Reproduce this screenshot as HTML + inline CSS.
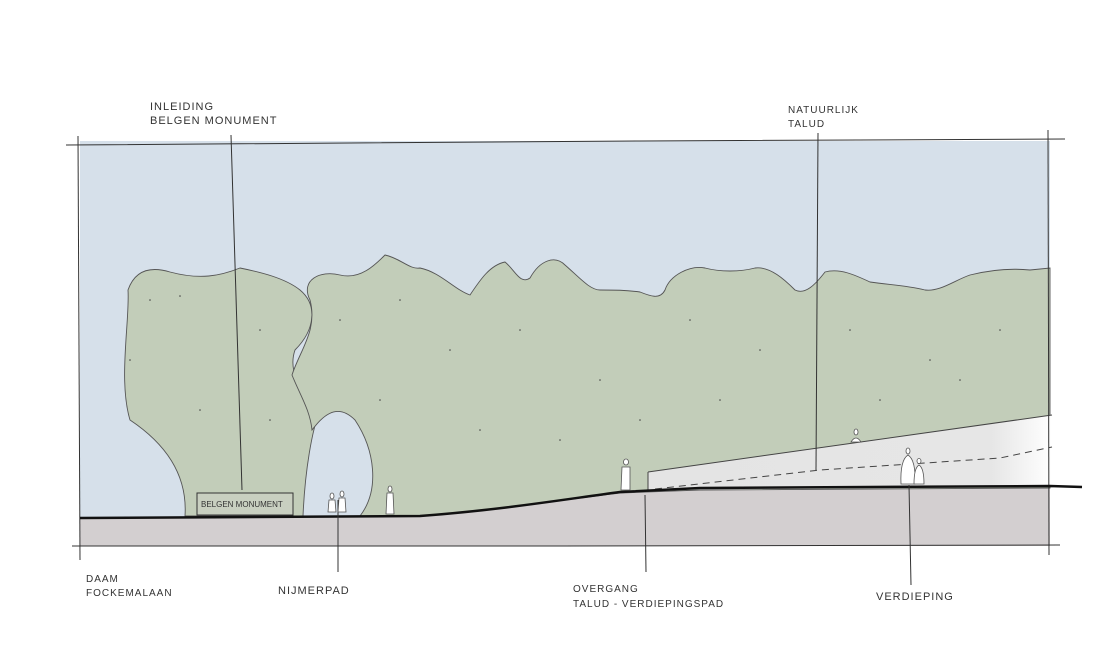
<!DOCTYPE html>
<html><head><meta charset="utf-8"><style>
html,body{margin:0;padding:0;background:#fff;}
svg{display:block}
text{font-family:"Liberation Sans",sans-serif;font-size:11px;fill:#333;letter-spacing:1px}
</style></head><body>
<svg width="1116" height="664" viewBox="0 0 1116 664" xmlns="http://www.w3.org/2000/svg">
<defs>
<linearGradient id="fade" x1="0" x2="1" y1="0" y2="0">
<stop offset="0" stop-color="#e4e4e4"/><stop offset="0.85" stop-color="#e6e6e6"/><stop offset="1" stop-color="#ffffff"/>
</linearGradient>
</defs>
<rect x="80" y="141" width="970" height="380" fill="#d6e0ea"/>
<path d="M80,518 L420,516 C500,510 560,500 620,492 L700,488 L1050,486 L1050,546 L80,546 Z" fill="#d3cfd0"/>
<g fill="#c2cdb9" stroke="#555" stroke-width="0.9">
<path d="M185,516 C188,470 160,440 130,420 C118,380 130,320 128,290 C135,270 150,266 170,272 C200,280 220,276 240,268 C260,272 285,278 300,290 C318,305 315,330 295,350 C288,370 300,390 312,400 L320,410 C312,430 305,470 303,516 Z"/>
<path d="M360,516 C380,490 375,450 355,420 C335,400 320,420 312,430 C310,410 300,395 292,375 C300,350 318,330 310,300 C300,280 320,270 340,275 C360,280 375,265 385,255 C400,258 410,270 420,268 C440,272 455,290 470,295 C480,280 490,265 505,262 C515,270 520,285 530,278 C540,260 555,255 565,265 C580,278 590,290 600,290 C615,290 625,290 640,292 C650,296 660,300 665,290 C670,275 690,265 705,268 C720,272 740,272 755,268 C770,266 785,280 795,290 C805,295 815,285 825,272 C840,268 855,275 870,282 C890,285 905,285 925,290 C940,292 955,280 970,275 C990,270 1010,268 1030,270 L1050,268 L1050,488 L700,490 L620,493 C560,500 500,510 420,516 Z"/>
</g>
<g fill="#444">
<circle cx="150" cy="300" r="0.8"/><circle cx="180" cy="296" r="0.8"/><circle cx="260" cy="330" r="0.8"/><circle cx="130" cy="360" r="0.8"/><circle cx="200" cy="410" r="0.8"/><circle cx="270" cy="420" r="0.8"/>
<circle cx="340" cy="320" r="0.8"/><circle cx="400" cy="300" r="0.8"/><circle cx="450" cy="350" r="0.8"/><circle cx="520" cy="330" r="0.8"/><circle cx="600" cy="380" r="0.8"/><circle cx="690" cy="320" r="0.8"/><circle cx="760" cy="350" r="0.8"/><circle cx="850" cy="330" r="0.8"/><circle cx="930" cy="360" r="0.8"/><circle cx="1000" cy="330" r="0.8"/><circle cx="380" cy="400" r="0.8"/><circle cx="480" cy="430" r="0.8"/><circle cx="560" cy="440" r="0.8"/><circle cx="640" cy="420" r="0.8"/><circle cx="720" cy="400" r="0.8"/><circle cx="880" cy="400" r="0.8"/><circle cx="960" cy="380" r="0.8"/>
</g>
<path d="M648,472 L1052,415 L1052,487 L648,490 Z" fill="url(#fade)"/>
<path d="M648,472 L1052,415" stroke="#444" stroke-width="1" fill="none"/>
<path d="M648,472 L648,492" stroke="#444" stroke-width="1"/>
<path d="M655,489 L820,470 L1000,458 L1052,447" stroke="#444" stroke-width="1" stroke-dasharray="7,5" fill="none"/>
<path d="M66,145 L640,141 L1065,139" stroke="#333" stroke-width="1" fill="none"/>
<path d="M78,136 L80,560" stroke="#333" stroke-width="1"/>
<path d="M1048,130 L1049,555" stroke="#333" stroke-width="1"/>
<path d="M72,546 L560,546 L1060,545" stroke="#333" stroke-width="1" fill="none"/>
<path d="M80,518 L420,516 C500,510 560,500 620,492 L700,488 L1050,486 L1082,487" stroke="#111" stroke-width="2.5" fill="none"/>
<rect x="197" y="493" width="96" height="22" fill="#c8cfc0" stroke="#333" stroke-width="1"/>
<text x="201" y="507" style="font-size:8px;letter-spacing:0">BELGEN MONUMENT</text>
<path d="M231,135 L242,490" stroke="#333" stroke-width="1"/>
<path d="M818,133 L816,470" stroke="#333" stroke-width="1"/>
<path d="M338,500 L338,572" stroke="#333" stroke-width="1"/>
<path d="M645,495 L646,572" stroke="#333" stroke-width="1"/>
<path d="M909,485 L911,585" stroke="#333" stroke-width="1"/>
<g fill="#fff" stroke="#555" stroke-width="0.8">
<ellipse cx="332" cy="496" rx="2" ry="3"/><path d="M328,512 L329,500 L335,500 L336,512 Z"/>
<ellipse cx="342" cy="494" rx="2" ry="3"/><path d="M338,512 L339,498 L345,498 L346,512 Z"/>
<ellipse cx="390" cy="489" rx="2" ry="3"/><path d="M386,514 L387,493 L393,493 L394,514 Z"/>
<ellipse cx="626" cy="462" rx="2.5" ry="3"/><path d="M621,490 L622,467 L630,467 L630,490 Z"/>
<ellipse cx="856" cy="432" rx="2" ry="3"/><path d="M851,442 Q856,434 861,442 Z"/>
<ellipse cx="908" cy="451" rx="2" ry="3"/><path d="M901,484 Q900,460 908,455 Q916,460 915,484 Z"/>
<ellipse cx="919" cy="461" rx="2" ry="2.5"/><path d="M914,484 Q914,468 919,465 Q924,468 924,484 Z"/>
</g>
<text x="150" y="110">INLEIDING</text>
<text x="150" y="124">BELGEN MONUMENT</text>
<text x="788" y="113" style="font-size:10px">NATUURLIJK</text>
<text x="788" y="127" style="font-size:10px">TALUD</text>
<text x="86" y="582" style="font-size:10px">DAAM</text>
<text x="86" y="596" style="font-size:10px">FOCKEMALAAN</text>
<text x="278" y="594">NIJMERPAD</text>
<text x="573" y="592" style="font-size:10px">OVERGANG</text>
<text x="573" y="607" style="font-size:10px">TALUD - VERDIEPINGSPAD</text>
<text x="876" y="600">VERDIEPING</text>
</svg>
</body></html>
